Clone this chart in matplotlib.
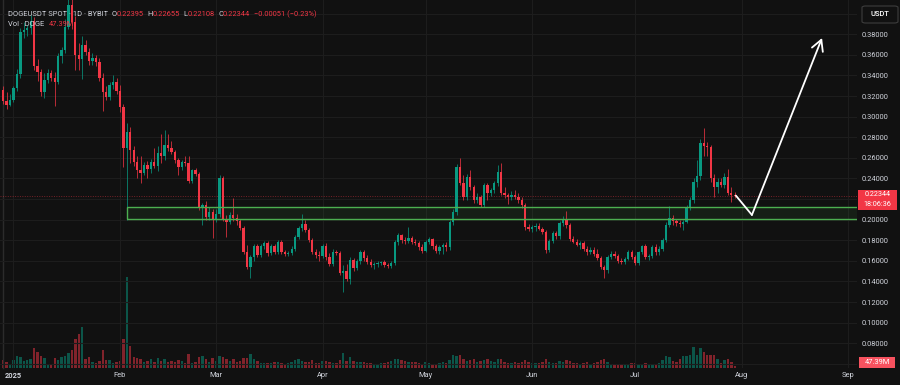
import matplotlib
matplotlib.use('Agg')
import matplotlib.pyplot as plt
import matplotlib.dates as mdates
from matplotlib.patches import Rectangle, FancyBboxPatch
from matplotlib.lines import Line2D
import numpy as np
import pandas as pd

plt.rcParams['font.family'] = ['Roboto', 'DejaVu Sans']

# daily candles DOGEUSDT (Bybit), 29 Dec 2024 .. 30 Jul 2025
start_day = '2024-12-29'
first_open = 0.326

highs = ([0.330, 0.324, 0.322] +
         # Jan
         [0.330, 0.346, 0.386, 0.392, 0.389, 0.399, 0.397, 0.356, 0.346, 0.342, 0.346, 0.345, 0.343, 0.362, 0.368, 0.395,
          0.425, 0.430, 0.398, 0.372, 0.378, 0.374, 0.367, 0.362, 0.360, 0.357, 0.342, 0.330, 0.334, 0.340, 0.338] +
         # Feb
         [0.331, 0.312, 0.294, 0.290, 0.272, 0.262, 0.262, 0.256, 0.257, 0.259, 0.270, 0.272, 0.283, 0.287, 0.283, 0.276,
          0.268, 0.260, 0.258, 0.262, 0.262, 0.249, 0.250, 0.246, 0.216, 0.218, 0.212, 0.210] +
         # Mar
         [0.210, 0.243, 0.242, 0.205, 0.207, 0.221, 0.206, 0.201, 0.194, 0.175, 0.166, 0.176, 0.176, 0.176, 0.179, 0.179,
          0.176, 0.176, 0.180, 0.180, 0.171, 0.170, 0.174, 0.185, 0.194, 0.206, 0.200, 0.192, 0.182, 0.172, 0.170] +
         # Apr
         [0.176, 0.177, 0.168, 0.172, 0.171, 0.170, 0.156, 0.157, 0.164, 0.163, 0.162, 0.171, 0.171, 0.166, 0.162, 0.159,
          0.160, 0.160, 0.161, 0.158, 0.160, 0.180, 0.187, 0.186, 0.183, 0.193, 0.184, 0.181, 0.179, 0.176] +
         # May
         [0.180, 0.183, 0.182, 0.176, 0.175, 0.177, 0.178, 0.200, 0.210, 0.254, 0.260, 0.243, 0.244, 0.248, 0.234, 0.226,
          0.224, 0.236, 0.236, 0.231, 0.238, 0.253, 0.255, 0.232, 0.226, 0.228, 0.229, 0.226, 0.222, 0.216, 0.196] +
         # Jun
         [0.195, 0.197, 0.197, 0.193, 0.190, 0.181, 0.189, 0.189, 0.199, 0.204, 0.208, 0.197, 0.184, 0.181, 0.179, 0.179,
          0.174, 0.173, 0.173, 0.172, 0.165, 0.156, 0.166, 0.170, 0.170, 0.167, 0.163, 0.164, 0.171, 0.171] +
         # Jul
         [0.166, 0.170, 0.175, 0.176, 0.167, 0.175, 0.176, 0.174, 0.182, 0.198, 0.213, 0.205, 0.201, 0.200, 0.200, 0.214,
          0.222, 0.240, 0.258, 0.278, 0.289, 0.275, 0.273, 0.244, 0.240, 0.240, 0.245, 0.249, 0.232, 0.22655])

lows = ([0.312, 0.307, 0.310] +
        [0.314, 0.325, 0.338, 0.376, 0.378, 0.380, 0.345, 0.335, 0.320, 0.318, 0.333, 0.335, 0.310, 0.332, 0.352, 0.362,
         0.385, 0.385, 0.345, 0.345, 0.337, 0.360, 0.350, 0.350, 0.349, 0.335, 0.306, 0.316, 0.316, 0.327, 0.322] +
        [0.305, 0.251, 0.200, 0.255, 0.252, 0.240, 0.236, 0.243, 0.240, 0.245, 0.250, 0.247, 0.255, 0.258, 0.267, 0.264,
         0.255, 0.243, 0.248, 0.252, 0.236, 0.236, 0.242, 0.209, 0.195, 0.200, 0.200, 0.182] +
        [0.198, 0.203, 0.199, 0.183, 0.196, 0.199, 0.195, 0.190, 0.167, 0.152, 0.143, 0.160, 0.164, 0.164, 0.172, 0.165,
         0.166, 0.167, 0.167, 0.167, 0.165, 0.165, 0.166, 0.170, 0.181, 0.189, 0.188, 0.178, 0.167, 0.163, 0.160] +
        [0.163, 0.161, 0.155, 0.155, 0.166, 0.146, 0.130, 0.140, 0.138, 0.150, 0.151, 0.157, 0.160, 0.157, 0.154, 0.152,
         0.154, 0.156, 0.154, 0.153, 0.153, 0.156, 0.175, 0.177, 0.176, 0.177, 0.176, 0.175, 0.171, 0.168] +
        [0.169, 0.176, 0.172, 0.168, 0.167, 0.167, 0.170, 0.171, 0.195, 0.205, 0.234, 0.219, 0.219, 0.229, 0.216, 0.216,
         0.212, 0.212, 0.219, 0.223, 0.226, 0.233, 0.224, 0.221, 0.215, 0.219, 0.220, 0.216, 0.211, 0.190, 0.189] +
        [0.188, 0.189, 0.190, 0.186, 0.168, 0.169, 0.177, 0.181, 0.181, 0.194, 0.192, 0.179, 0.177, 0.174, 0.172, 0.170,
         0.166, 0.167, 0.165, 0.161, 0.152, 0.143, 0.148, 0.162, 0.163, 0.158, 0.157, 0.157, 0.161, 0.162] +
        [0.156, 0.156, 0.167, 0.162, 0.161, 0.163, 0.166, 0.166, 0.170, 0.178, 0.193, 0.195, 0.194, 0.193, 0.190, 0.197,
         0.209, 0.216, 0.232, 0.239, 0.262, 0.262, 0.237, 0.222, 0.226, 0.232, 0.231, 0.224, 0.217, 0.22108])

closes = ([0.315, 0.311, 0.316] +
          [0.328, 0.341, 0.382, 0.384, 0.386, 0.393, 0.349, 0.343, 0.324, 0.336, 0.342, 0.338, 0.334, 0.359, 0.365, 0.387,
           0.408, 0.392, 0.360, 0.356, 0.370, 0.363, 0.354, 0.357, 0.353, 0.338, 0.324, 0.319, 0.331, 0.334, 0.325] +
          [0.309, 0.270, 0.285, 0.268, 0.256, 0.248, 0.245, 0.253, 0.249, 0.256, 0.252, 0.265, 0.262, 0.273, 0.270, 0.266,
           0.258, 0.251, 0.256, 0.255, 0.238, 0.248, 0.244, 0.211, 0.214, 0.203, 0.207, 0.201] +
          [0.206, 0.240, 0.201, 0.198, 0.205, 0.202, 0.199, 0.192, 0.169, 0.154, 0.164, 0.174, 0.166, 0.174, 0.177, 0.168,
           0.174, 0.169, 0.178, 0.169, 0.167, 0.168, 0.172, 0.183, 0.192, 0.196, 0.190, 0.180, 0.169, 0.166, 0.165] +
          [0.174, 0.164, 0.157, 0.169, 0.168, 0.148, 0.150, 0.142, 0.161, 0.153, 0.160, 0.169, 0.163, 0.159, 0.156, 0.157,
           0.158, 0.159, 0.156, 0.155, 0.158, 0.178, 0.185, 0.180, 0.179, 0.182, 0.178, 0.177, 0.173, 0.170] +
          [0.178, 0.181, 0.174, 0.170, 0.173, 0.175, 0.173, 0.198, 0.207, 0.251, 0.236, 0.222, 0.241, 0.232, 0.219, 0.222,
           0.214, 0.234, 0.226, 0.229, 0.236, 0.246, 0.226, 0.224, 0.222, 0.224, 0.222, 0.219, 0.214, 0.193, 0.191] +
          [0.193, 0.194, 0.191, 0.188, 0.171, 0.179, 0.187, 0.184, 0.197, 0.200, 0.195, 0.181, 0.178, 0.175, 0.177, 0.172,
           0.169, 0.171, 0.167, 0.163, 0.154, 0.151, 0.164, 0.167, 0.165, 0.160, 0.159, 0.162, 0.169, 0.164] +
          [0.158, 0.169, 0.174, 0.164, 0.165, 0.173, 0.169, 0.172, 0.180, 0.195, 0.202, 0.199, 0.197, 0.196, 0.198, 0.212,
           0.219, 0.237, 0.242, 0.274, 0.272, 0.271, 0.240, 0.232, 0.237, 0.234, 0.241, 0.226, 0.22395, 0.22344])

# volume in millions of DOGE
volumes = ([230, 170, 120] +
           [220, 330, 310, 200, 230, 260, 560, 450, 330, 290, 120, 120, 280, 230, 310, 330,
            430, 510, 820, 950, 1130, 240, 310, 170, 140, 200, 510, 230, 215, 140, 170] +
           [200, 800, 2530, 620, 300, 280, 260, 170, 200, 250, 170, 290, 200, 250, 170, 190,
            160, 220, 200, 140, 390, 150, 170, 300, 330, 250, 170, 280] +
           [200, 340, 300, 250, 200, 240, 170, 200, 280, 290, 390, 250, 200, 140, 140, 150,
            150, 170, 170, 140, 110, 140, 170, 220, 250, 200, 170, 180, 220, 150, 140] +
           [200, 200, 170, 150, 130, 220, 430, 200, 310, 200, 170, 180, 170, 140, 130, 120,
            120, 140, 130, 170, 200, 250, 250, 220, 200, 170, 170, 180, 140, 120] +
           [170, 140, 110, 90, 140, 180, 140, 230, 360, 330, 370, 250, 200, 230, 260, 170,
            200, 210, 250, 200, 180, 250, 250, 170, 150, 140, 170, 140, 170, 230, 170] +
           [130, 140, 140, 170, 240, 180, 150, 130, 200, 170, 220, 200, 150, 130, 120, 130,
            160, 120, 140, 180, 220, 250, 170, 120, 110, 100, 90, 100, 110, 130] +
           [140, 120, 110, 140, 80, 110, 120, 140, 220, 330, 300, 200, 160, 250, 330, 330,
            355, 590, 370, 560, 450, 370, 370, 370, 240, 140, 215, 245, 170, 47.39])

# support zone and projected path
box_low, box_high = 0.2005, 0.2125
box_start = '2025-02-03'
last_price = 0.22344
path_dates = ['2025-07-30 08:00', '2025-08-04 00:00', '2025-08-24 10:00']
path_prices = [0.2234, 0.2046, 0.3764]

price_ticks = np.arange(0.06, 0.4001, 0.02)
hidden_ticks = [0.06, 0.22, 0.40]   # covered by the scale tags
month_starts = pd.date_range('2025-01-01', '2025-09-01', freq='MS')

bg = '#111111'
grid_c = '#1d1d1d'
up_c = '#089981'
down_c = '#f23645'
text_c = '#d1d4dc'
fs = 5.4

closes = np.array(closes)
opens = np.concatenate([[first_open], closes[:-1]])
highs = np.array(highs)
lows = np.array(lows)
volumes = np.array(volumes)
dates = pd.date_range(start_day, periods=len(closes), freq='D')
x = mdates.date2num(dates)
colors = np.where(closes >= opens, up_c, down_c)

W, H = 900, 385
fig = plt.figure(figsize=(9, 3.85), dpi=100, facecolor=bg)
ax = fig.add_axes([0, 17 / H, 857 / W, 368 / H])
vax = ax.twinx()
ax.set_zorder(2)
ax.patch.set_visible(False)
vax.set_zorder(1)
vax.patch.set_facecolor(bg)

jan1 = mdates.date2num(pd.Timestamp('2025-01-01'))
ax.set_xlim(jan1 - 3.93, jan1 + 245.6)
ax.set_ylim(0.0560, 0.4133)

# volume
vax.bar(x, volumes, width=0.7, color=colors, alpha=0.5, linewidth=0)
vax.set_ylim(0, volumes.max() * 4.05)
vax.set_yticks([])
for s in vax.spines.values():
    s.set_visible(False)

# candles
ax.vlines(x, lows, highs, colors=colors, linewidth=0.7, alpha=0.75, zorder=3)
body_bottom = np.minimum(opens, closes)
body_h = np.maximum(np.abs(closes - opens), 0.0007)
ax.bar(x, body_h, bottom=body_bottom, width=0.68, color=colors, linewidth=0, zorder=4)

# current price line
ax.axhline(last_price, color=down_c, lw=0.7, ls=(0, (1, 1.5)), alpha=0.45, zorder=2)

# support zone
bx = mdates.date2num(pd.Timestamp(box_start))
ax.add_patch(Rectangle((bx, box_low), 400, box_high - box_low, facecolor='#4caf50',
                       alpha=0.09, edgecolor='none', zorder=2))
ax.add_patch(Rectangle((bx, box_low), 400, box_high - box_low, fill=False,
                       edgecolor='#4caf50', lw=1.0, zorder=5))

# projected path
px = mdates.date2num(pd.to_datetime(path_dates))
ax.plot(px[:2], path_prices[:2], color='white', lw=1.3, solid_capstyle='round', zorder=6)
ax.annotate('', xy=(px[2], path_prices[2]), xytext=(px[1], path_prices[1]),
            arrowprops=dict(arrowstyle='->,head_length=0.55,head_width=0.3', color='white',
                            lw=1.3, shrinkA=0, shrinkB=0, mutation_scale=14), zorder=6)

# axes styling
ax.set_yticks(price_ticks)
ax.set_yticklabels(['' if any(abs(t - h) < 1e-9 for h in hidden_ticks) else '{:.5f}'.format(t)
                    for t in price_ticks])
ax.yaxis.tick_right()
ax.tick_params(axis='y', length=0, pad=3.6, labelsize=fs, labelcolor=text_c)
ax.set_xticks(mdates.date2num(month_starts))
ax.set_xticklabels(['2025'] + [d.strftime('%b') for d in month_starts[1:]])
ax.tick_params(axis='x', length=0, pad=3.2, labelsize=fs, labelcolor=text_c)
ax.get_xticklabels()[0].set_fontweight('bold')
ax.grid(True, color=grid_c, lw=0.8)
ax.set_axisbelow(True)
for s in ax.spines.values():
    s.set_visible(False)

fig.add_artist(Line2D([2.5 / W, 2.5 / W], [17 / H, 1], color='#2b2b2b', lw=1))


def fpos(px_x, px_y):
    return px_x / W, 1 - px_y / H


# legend lines, each piece placed right after the previous one
def chain(parts, px_x, px_y):
    prev = fig.text(*fpos(px_x, px_y), parts[0][0], color=parts[0][1], fontsize=fs, va='center')
    for s, c, gap in parts[1:]:
        prev = fig.add_artist(plt.Annotation(s, xy=(1, 0.5), xycoords=prev, xytext=(gap, 0),
                                             textcoords='offset points', va='center', ha='left',
                                             color=c, fontsize=fs, annotation_clip=False))


chain([('DOGEUSDT SPOT · 1D · BYBIT', text_c),
       ('O', text_c, 2.5), ('0.22395', down_c, 0),
       ('H', text_c, 2.5), ('0.22655', down_c, 0),
       ('L', text_c, 2.5), ('0.22108', down_c, 0),
       ('C', text_c, 2.5), ('0.22344', down_c, 0),
       ('−0.00051 (−0.23%)', down_c, 2.5)], 8, 14)
chain([('Vol · DOGE', text_c), ('47.39M', down_c, 3)], 8, 25)

# right scale tags
fig.add_artist(FancyBboxPatch(fpos(862, 23), 36 / W, 17 / H, boxstyle='round,pad=0,rounding_size=0.004',
                              transform=fig.transFigure, facecolor=bg, edgecolor='#3d3d3d', lw=0.8,
                              zorder=10))
fig.text(*fpos(880, 14.5), 'USDT', color='white', fontsize=fs, ha='center', va='center',
         fontweight='medium', zorder=11)

fig.add_artist(Rectangle(fpos(858, 209.5), 39 / W, 20 / H, transform=fig.transFigure,
                         facecolor=down_c, edgecolor='none', zorder=10))
fig.text(*fpos(877.5, 194.5), '0.22344', color='white', fontsize=5.2, ha='center', va='center', zorder=11)
fig.text(*fpos(877.5, 204.3), '18:06:36', color='white', fontsize=5.2, ha='center', va='center', zorder=11)

fig.add_artist(Rectangle(fpos(859, 367.5), 36 / W, 10.5 / H, transform=fig.transFigure,
                         facecolor='#f7525f', edgecolor='none', zorder=10))
fig.text(*fpos(877, 362.3), '47.39M', color='white', fontsize=fs, ha='center', va='center', zorder=11)

fig.savefig('out.png', dpi=100, facecolor=bg)
